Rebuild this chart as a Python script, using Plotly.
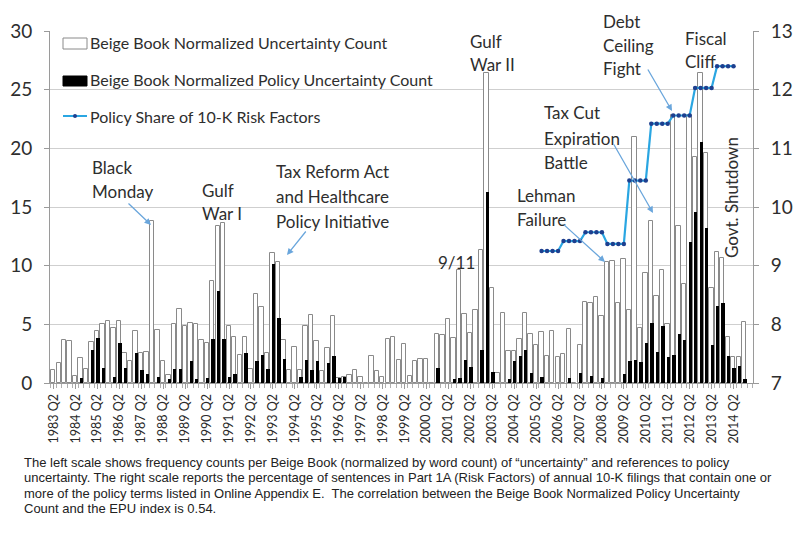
import plotly.graph_objects as go

# ---------------- data ----------------
# quarterly categories 1983 Q2 ... 2014 Q4
quarters = []
for y in range(1983, 2015):
    for q in (1, 2, 3, 4):
        if y == 1983 and q == 1:
            continue
        quarters.append(f"{y} Q{q}")

uncertainty = [
    1.15, 1.7, 3.7, 3.6, 0.6, 2.1, 1.2, 3.5,      # 1983Q2-1985Q1
    4.4, 5.0, 5.25, 4.7, 5.25, 2.55, 1.9, 4.4,    # 1985Q2-1987Q1
    2.55, 2.6, 13.8, 4.55, 1.9, 0.7, 5.0, 6.3,    # 1987Q2-1989Q1
    4.9, 5.15, 5.0, 3.7, 3.45, 8.7, 13.4, 13.6,   # 1989Q2-1991Q1
    4.85, 3.9, 2.4, 3.9, 1.2, 7.6, 6.5, 2.55,     # 1991Q2-1993Q1
    11.05, 10.3, 3.7, 1.1, 3.1, 1.1, 4.9, 5.8,    # 1993Q2-1995Q1
    3.55, 1.0, 3.0, 5.75, 0.43, 0.5, 0.7, 1.07,   # 1995Q2-1997Q1
    0.5, 0.0, 2.3, 1.0, 0.5, 3.75, 3.9, 2.0,      # 1997Q2-1999Q1
    3.3, 0.6, 1.85, 2.05, 2.05, 0.0, 4.2, 4.05,   # 1999Q2-2001Q1
    5.45, 3.85, 9.6, 5.9, 4.3, 6.2, 11.3, 26.4,   # 2001Q2-2003Q1
    8.1, 0.85, 5.95, 2.7, 2.7, 3.75, 5.95, 4.2,   # 2003Q2-2005Q1
    3.2, 4.35, 2.3, 4.45, 2.2, 2.45, 4.6, 0.0,    # 2005Q2-2007Q1
    3.2, 6.9, 6.8, 7.3, 5.75, 10.35, 10.4, 6.8,   # 2007Q2-2009Q1
    10.6, 6.25, 21.0, 4.7, 9.4, 13.8, 7.4, 9.6,   # 2009Q2-2011Q1
    5.0, 22.8, 13.4, 8.4, 22.8, 19.3, 26.4, 19.6,  # 2011Q2-2013Q1
    8.1, 11.2, 10.65, 3.9, 2.2, 2.25, 5.2,        # 2013Q2-2014Q4
]
policy = [
    0, 0, 0, 0, 0, 0.4, 0, 2.85,
    3.85, 1.3, 0, 0.55, 3.4, 1.3, 0, 2.55,
    1.15, 0.75, 0, 0.55, 0, 0.35, 1.2, 1.2,
    0, 1.85, 0.35, 0, 0.45, 3.75, 7.85, 3.75,
    0.5, 0.8, 0, 2.55, 0, 1.85, 2.4, 1.2,
    10.1, 5.55, 2.05, 0, 0, 0.5, 2.0, 1.1,
    1.85, 0, 1.7, 2.3, 0.43, 0.5, 0, 0,
    0, 0, 0, 0, 0, 0, 0, 0,
    0, 0, 0, 0, 0, 0, 1.3, 0,
    0, 0.35, 0.4, 2.0, 1.4, 0, 2.8, 16.3,
    0.9, 0, 0, 0.35, 1.85, 2.3, 2.85, 0.85,
    0, 0.55, 0, 0, 0, 0, 0.4, 0,
    0.85, 0, 0.6, 0, 0.4, 0, 0, 0,
    0.75, 1.9, 2.0, 1.75, 3.45, 5.15, 2.6, 4.85,
    2.2, 2.4, 4.15, 3.7, 12.0, 14.6, 20.55, 13.2,
    3.2, 6.6, 6.85, 2.3, 1.3, 1.45, 0.35,
]
# policy share of 10-K risk factors (annual value, shown across 4 quarters)
risk_quarters = quarters[89:125]
risk_share = [
    9.25, 9.25, 9.25, 9.25,
    9.42, 9.42, 9.42, 9.42,
    9.57, 9.57, 9.57, 9.57,
    9.37, 9.37, 9.37, 9.37,
    10.45, 10.45, 10.45, 10.45,
    11.42, 11.42, 11.42, 11.42,
    11.56, 11.56, 11.56, 11.56,
    12.03, 12.03, 12.03, 12.03,
    12.4, 12.4, 12.4, 12.4,
]
tick_labels = [q for q in quarters if q.endswith("Q2")]

# ---------------- figure ----------------
L, R, T, B = 50, 47, 31, 160
W, H = 800, 543
PW, PH = W - L - R, H - T - B
FONT = "Lato, Carlito, Calibri, sans-serif"
TXT = "#2e2e2e"

xi = list(range(len(quarters)))
qi = {q: i for i, q in enumerate(quarters)}

fig = go.Figure()
fig.add_trace(go.Bar(
    x=xi, y=uncertainty, width=0.8, offset=-0.45,
    marker=dict(color="white", line=dict(color="#8a8a8a", width=1)),
    name="Beige Book Normalized Uncertainty Count", showlegend=False))
fig.add_trace(go.Bar(
    x=xi, y=policy, width=0.62, offset=-0.2,
    marker=dict(color="black", line=dict(color="black", width=0)),
    name="Beige Book Normalized Policy Uncertainty Count", showlegend=False))
fig.add_trace(go.Scatter(
    x=[qi[q] for q in risk_quarters], y=risk_share, yaxis="y2",
    mode="lines+markers", line=dict(color="#2aa6e2", width=2.2),
    marker=dict(color="#1d3f8f", size=4.5),
    name="Policy Share of 10-K Risk Factors", showlegend=False))

x0 = -0.64
x1 = 127.55
fig.update_layout(
    width=W, height=H, margin=dict(l=L, r=R, t=T, b=B, autoexpand=False),
    paper_bgcolor="white", plot_bgcolor="white",
    barmode="overlay", bargap=0,
    font=dict(family=FONT, color=TXT),
    xaxis=dict(
        range=[x0, x1], tickmode="array", automargin=False,
        tickvals=[qi[t] for t in tick_labels], ticktext=tick_labels,
        tickangle=-90, tickfont=dict(size=12.5, family="Lato, sans-serif", color="#2a2a2a"),
        showgrid=False, zeroline=False, showline=True, linecolor="#9a9a9a",
        ticks="outside", ticklen=5, tickcolor="#9a9a9a",
        minor=dict(ticks="outside", ticklen=4, tickcolor="#b0b0b0", dtick=1, tick0=0.5),
    ),
    yaxis=dict(
        range=[0, 30], dtick=5, tickfont=dict(size=19, color="#2e2e2e"), automargin=False,
        showgrid=True, gridcolor="#cfcfcf", gridwidth=1, zeroline=False,
        showline=True, linecolor="#9a9a9a", ticks="outside", ticklen=5,
        tickcolor="#9a9a9a", ticklabelstandoff=8,
    ),
    yaxis2=dict(
        range=[7, 13], dtick=1, overlaying="y", side="right", automargin=False,
        tickfont=dict(size=19, color="#2e2e2e"), showgrid=False, zeroline=False,
        showline=True, linecolor="#9a9a9a", ticks="outside", ticklen=5,
        tickcolor="#9a9a9a", ticklabelstandoff=8,
    ),
)


def px(xp):
    return (xp - L) / PW


def py(yp):
    return (T + PH - yp) / PH


ann = []
shapes = []


def text(s, x, y, size=17, xanchor="left", angle=0, color=TXT, family=FONT):
    ann.append(dict(text=s, x=px(x), y=py(y), xref="paper", yref="paper",
                    showarrow=False, xanchor=xanchor, yanchor="middle",
                    textangle=angle, font=dict(size=size, color=color, family=family)))


def arrow(tx, ty, hx, hy):
    ann.append(dict(text="", x=px(hx), y=py(hy), xref="paper", yref="paper",
                    ax=tx - hx, ay=ty - hy, axref="pixel", ayref="pixel",
                    showarrow=True, arrowhead=2, arrowsize=1, arrowwidth=1.3,
                    arrowcolor="#6aa6dc"))


# legend (manual)
shapes.append(dict(type="rect", xref="paper", yref="paper",
                   x0=px(63), x1=px(87), y0=py(49), y1=py(38),
                   line=dict(color="#8a8a8a", width=1), fillcolor="white"))
shapes.append(dict(type="rect", xref="paper", yref="paper",
                   x0=px(63), x1=px(87), y0=py(86), y1=py(76),
                   line=dict(color="black", width=1), fillcolor="black"))
shapes.append(dict(type="line", xref="paper", yref="paper",
                   x0=px(63), x1=px(87), y0=py(116), y1=py(116),
                   line=dict(color="#2aa6e2", width=2)))
shapes.append(dict(type="circle", xref="paper", yref="paper",
                   x0=px(73), x1=px(77), y0=py(118), y1=py(114),
                   line=dict(color="#1d3f8f", width=0), fillcolor="#1d3f8f"))
text("Beige Book Normalized Uncertainty Count", 88, 43, size=16)
text("Beige Book Normalized Policy Uncertainty Count", 88, 80, size=16)
text("Policy Share of 10-K Risk Factors", 88, 116, size=16)

# event labels
text("Black", 90, 167); text("Monday", 90, 191)
arrow(127, 202, 151, 225)
text("Gulf", 200, 190); text("War I", 200, 213)
text("Tax Reform Act", 274, 171); text("and Healthcare", 274, 196); text("Policy Initiative", 274, 221)
arrow(307, 230, 287, 255)
text("9/11", 436, 262)
text("Gulf", 468, 41); text("War II", 468, 65)
text("Lehman", 515, 195); text("Failure", 515, 219)
arrow(562, 223, 605, 262)
text("Tax Cut", 542, 113); text("Expiration", 542, 138); text("Battle", 542, 162)
arrow(613, 143, 653, 213)
text("Debt", 601, 21); text("Ceiling", 601, 45); text("Fight", 601, 69)
arrow(647, 68, 672, 111)
text("Fiscal", 683, 38); text("Cliff", 683, 62)
text("Govt. Shutdown", 731, 198, xanchor="center", angle=-90)

# caption
cap = [
    "The left scale shows frequency counts per Beige Book (normalized by word count) of \u201cuncertainty\u201d and references to policy",
    "uncertainty. The right scale reports the percentage of sentences in Part 1A (Risk Factors) of annual 10-K filings that contain one or",
    "more of the policy terms listed in Online Appendix E.  The correlation between the Beige Book Normalized Policy Uncertainty",
    "Count and the EPU index is 0.54.",
]
for k, line in enumerate(cap):
    text(line, 22, 462 + k * 15.5, size=13, color="#222", family="Liberation Sans, Arial, sans-serif")

fig.update_layout(annotations=ann, shapes=shapes)
fig.write_html(
    "out.html",
    config={"displayModeBar": False},
    post_script="document.body.style.margin='0px';document.body.style.overflow='hidden';",
)
